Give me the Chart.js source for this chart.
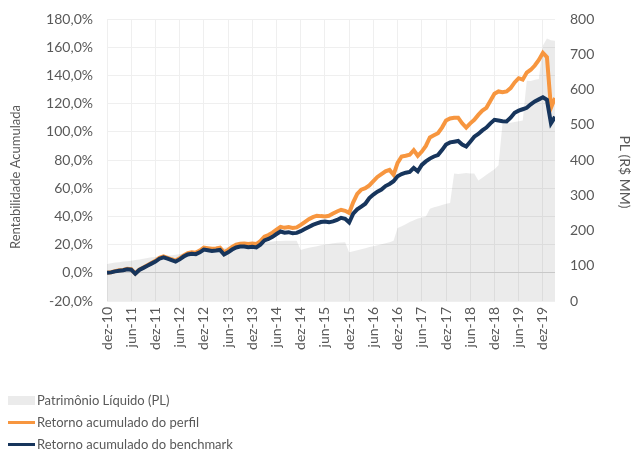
<!DOCTYPE html>
<html>
<head>
<meta charset="utf-8">
<script src="https://cdn.jsdelivr.net/npm/chart.js"></script>
<style>
  body { margin: 0; background: #fff; }
  #wrap { position: relative; width: 632px; height: 450px; }
  #legend { position: absolute; left: 8px; top: 389px; font: 13px Lato, sans-serif; color: #595959; }
  #legend div { height: 22px; display: flex; align-items: center; }
  #legend span.sw { display: inline-block; width: 27px; margin-right: 2px; }
</style>
</head>
<body>
<div id="wrap">
  <canvas id="chart" width="632" height="450"></canvas>
  <div id="legend"></div>
</div>
<script>
// tick labels, one every 6 months starting dez-10
const tickLabels = ["dez-10", "jun-11", "dez-11", "jun-12", "dez-12", "jun-13", "dez-13", "jun-14", "dez-14",
  "jun-15", "dez-15", "jun-16", "dez-16", "jun-17", "dez-17", "jun-18", "dez-18", "jun-19", "dez-19"];

// monthly values, dez-10 (index 0) .. mar-20 (index 111)
const plValues = [
  105, 107, 109, 110, 112, 113, 114, 116, 118, 120, 122, 124, 125, 127, 128, 129, 130, 131, 133, 134,
  135, 136, 138, 140, 142, 144, 146, 148, 150, 151, 153, 155, 157, 158, 159, 161, 163, 165, 166, 167,
  168, 169, 170, 170, 171, 171, 171, 171, 145, 148, 151, 153, 155, 158, 160, 162, 164, 165, 166, 167,
  138, 141, 144, 147, 150, 153, 155, 158, 161, 164, 167, 171, 207, 212, 218, 224, 229, 234, 237, 240,
  262, 266, 269, 272, 276, 278, 362, 360, 362, 363, 362, 362, 342, 350, 358, 366, 374, 385, 505, 503,
  506, 508, 510, 512, 625, 624, 628, 630, 725, 745, 740, 738
];
const perfilValues = [
  0, 0.4, 1.2, 1.8, 2, 2.8, 2.5, -0.5, 2.3, 3.8, 5.4, 7, 8.5, 10.6, 11.6, 10.6, 9.6, 8.7, 10.3, 12.3,
  14, 14.5, 14.3, 15.7, 17.8, 17.4, 17, 17.3, 17.8, 14.6, 16.2, 18.3, 19.9, 20.6, 20.8, 20.4, 20.8, 20.4, 22.5, 25.6,
  26.8, 28.5, 30.6, 32.6, 31.9, 32.4, 31.8, 32.2, 34, 36, 38, 39.5, 40.5, 40.2, 40, 40.4, 42, 43.5, 44.7, 44,
  42.5, 50, 56, 59, 60, 62, 65, 68, 70, 72, 73, 69.5, 78, 82.5, 83, 83.7, 87, 83, 86, 90,
  96, 97.5, 99, 103, 108, 109.5, 110, 110, 106, 103, 106, 108.5, 112, 115, 117, 122, 127, 128.6, 128, 128.6,
  131, 135, 138, 137, 142, 144, 147, 151, 156, 153, 117, 124
];
const benchmarkValues = [
  0, 0.3, 1, 1.5, 1.8, 2.5, 2.2, -0.7, 2, 3.5, 5, 6.5, 8, 10, 11, 10, 9, 8, 9.5, 11.5,
  13, 13.5, 13.2, 14.5, 16.5, 16, 15.5, 15.8, 16.2, 13, 14.5, 16.5, 18, 18.6, 18.7, 18.2, 18.5, 18, 20, 23,
  24, 25.5, 27.5, 29.3, 28.5, 28.8, 28, 28.3, 29.5, 31, 32.5, 34, 35, 36, 36.4, 35.8, 36.5, 37.5, 39, 38.3,
  35.7, 42, 45, 47, 49, 53, 55.5, 57.5, 59, 61.5, 63, 65, 68.5, 70, 71, 71.5, 74.4, 72, 76.5, 79,
  81, 82.5, 83.5, 87, 91, 92.5, 93, 93.5, 91, 89.6, 93, 96.5, 98.5, 101, 103, 106, 108.5, 108, 107.5, 107.3,
  110, 113.5, 115, 116, 117, 119.5, 121.5, 123, 124.5, 122.7, 106, 110.6
];

const toPoints = arr => arr.map((v, i) => ({ x: i, y: v }));
const fontFamily = 'Lato, sans-serif';
const textColor = '#595959';
const gridColor = '#efefef';

// axis titles drawn by hand so they can sit where the original has them
const axisTitles = {
  id: 'axisTitles',
  afterDraw(chart) {
    const ctx = chart.ctx;
    ctx.save();
    ctx.fillStyle = textColor;
    ctx.textAlign = 'center';
    ctx.textBaseline = 'middle';
    ctx.font = '13px ' + fontFamily;
    ctx.translate(16, 177);
    ctx.rotate(-Math.PI / 2);
    ctx.fillText('Rentabilidade Acumulada', 0, 0);
    ctx.restore();
    ctx.save();
    ctx.fillStyle = textColor;
    ctx.textAlign = 'center';
    ctx.textBaseline = 'middle';
    ctx.font = '14px ' + fontFamily;
    ctx.translate(625, 172);
    ctx.rotate(Math.PI / 2);
    ctx.fillText('PL (R$ MM)', 0, 0);
    ctx.restore();
  }
};

const chart = new Chart("chart", {
  type: 'line',
  data: {
    datasets: [
      {
        label: 'Patrimônio Líquido (PL)',
        data: toPoints(plValues),
        yAxisID: 'y2',
        fill: 'origin',
        backgroundColor: 'rgba(0,0,0,0.078)',
        borderWidth: 0,
        pointRadius: 0,
        order: 3
      },
      {
        label: 'Retorno acumulado do perfil',
        data: toPoints(perfilValues),
        yAxisID: 'y',
        borderColor: '#F7963F',
        backgroundColor: '#F7963F',
        borderWidth: 4,
        pointRadius: 0,
        order: 2
      },
      {
        label: 'Retorno acumulado do benchmark',
        data: toPoints(benchmarkValues),
        yAxisID: 'y',
        borderColor: '#17355C',
        backgroundColor: '#17355C',
        borderWidth: 4,
        pointRadius: 0,
        order: 1
      }
    ]
  },
  plugins: [axisTitles],
  options: {
    responsive: false,
    animation: false,
    layout: { padding: { left: 7, right: 0, top: 19, bottom: 94 } },
    plugins: {
      legend: { display: false },
      tooltip: { enabled: false }
    },
    scales: {
      x: {
        type: 'linear',
        min: 0,
        max: 111,
        border: { display: false },
        grid: { color: gridColor, drawTicks: false },
        afterFit: s => { s.height = 55; },
        ticks: {
          stepSize: 6,
          includeBounds: false,
          autoSkip: false,
          minRotation: 90,
          maxRotation: 90,
          padding: 6,
          color: textColor,
          font: { family: fontFamily, size: 14 },
          callback: v => (v % 6 === 0 ? tickLabels[v / 6] : '')
        }
      },
      y: {
        position: 'left',
        min: -20,
        max: 180,
        border: { display: false },
        grid: {
          tickLength: 11,
          tickColor: 'rgba(0,0,0,0)',
          color: ctx => (ctx.tick && ctx.tick.value === 0 ? '#d9d9d9' : gridColor)
        },
        afterFit: s => { s.width = 100; },
        ticks: {
          stepSize: 20,
          padding: 3,
          color: textColor,
          font: { family: fontFamily, size: 14 },
          callback: v => v.toFixed(1).replace('.', ',') + '%'
        }
      },
      y2: {
        position: 'right',
        min: 0,
        max: 800,
        border: { display: false },
        grid: { display: false, tickLength: 12, tickColor: 'rgba(0,0,0,0)' },
        afterFit: s => { s.width = 77; },
        ticks: {
          stepSize: 100,
          padding: 3,
          color: textColor,
          font: { family: fontFamily, size: 14 }
        }
      }
    }
  }
});

// legend below the chart, one item per line
const legend = document.getElementById('legend');
chart.data.datasets.forEach((ds, i) => {
  const row = document.createElement('div');
  const sw = document.createElement('span');
  sw.className = 'sw';
  if (i === 0) {
    sw.style.height = '9px';
    sw.style.background = '#ebebeb';
  } else {
    sw.style.height = '3px';
    sw.style.background = ds.borderColor;
  }
  row.appendChild(sw);
  row.appendChild(document.createTextNode(ds.label));
  legend.appendChild(row);
});
</script>
</body>
</html>
